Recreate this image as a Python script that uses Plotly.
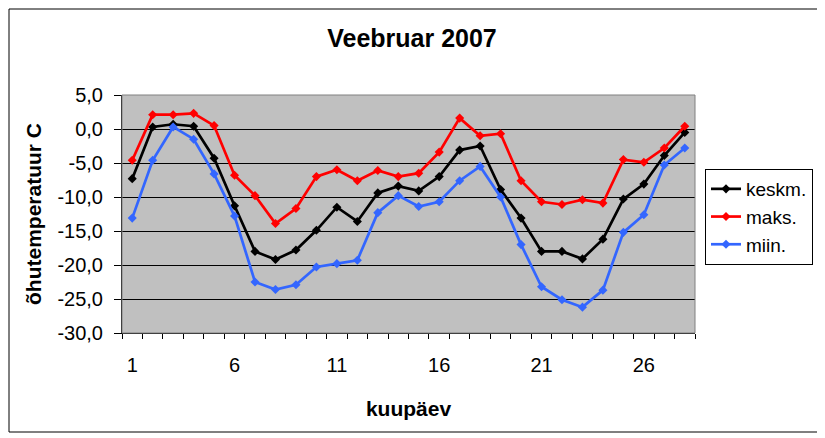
import plotly.graph_objects as go

days = list(range(1, 29))
keskm = [-7.3, 0.3, 0.7, 0.4, -4.3, -11.3, -18.0, -19.2, -17.8, -14.9, -11.5, -13.6, -9.4, -8.4,
         -9.1, -7.0, -3.1, -2.5, -8.9, -13.1, -18.0, -18.0, -19.1, -16.2, -10.3, -8.1, -3.9, -0.5]
maks = [-4.6, 2.1, 2.1, 2.3, 0.5, -6.8, -9.8, -13.9, -11.7, -7.0, -6.0, -7.6, -6.1, -7.0,
        -6.5, -3.4, 1.6, -1.0, -0.7, -7.6, -10.7, -11.1, -10.4, -10.9, -4.5, -4.9, -2.8, 0.4]
miin = [-13.1, -4.6, 0.3, -1.5, -6.6, -12.8, -22.5, -23.6, -22.9, -20.3, -19.8, -19.3, -12.3, -9.8,
        -11.4, -10.7, -7.6, -5.5, -10.0, -17.0, -23.2, -25.1, -26.2, -23.7, -15.2, -12.6, -5.3, -2.8]

x_ticks = [1, 6, 11, 16, 21, 26]
x_labels = ["1", "6", "11", "16", "21", "26"]
y_ticks = [-30, -25, -20, -15, -10, -5, 0, 5]
y_labels = ["-30,0", "-25,0", "-20,0", "-15,0", "-10,0", "-5,0", "0,0", "5,0"]

FONT = "Arial, Liberation Sans, sans-serif"

def trace(y, name, color):
    return go.Scatter(x=days, y=y, name=name, mode="lines+markers",
                      line=dict(color=color, width=2.7),
                      marker=dict(symbol="diamond", size=7, color=color))

data = [trace(keskm, "keskm.", "#000000"),
        trace(maks, "maks.", "#FF0000"),
        trace(miin, "miin.", "#3366FF")]

# the page puts the figure 8px in from the window corner, so work in window
# pixels and take the offset off
OFF = 8
W, H = 825 - OFF, 438 - OFF
L, R, T, B = 122 - OFF, 695 - OFF, 95 - OFF, 333 - OFF
pw, ph = R - L, B - T

def px(x):
    return (x - OFF - L) / pw

def py(y):
    return (B - (y - OFF)) / ph

layout = go.Layout(
    width=W, height=H,
    margin=dict(l=L, r=W - R, t=T, b=H - B, autoexpand=False),
    paper_bgcolor="white",
    plot_bgcolor="#C0C0C0",
    font=dict(family=FONT, size=20, color="black"),
    title=dict(text="<b>Veebruar 2007</b>", x=(412 - OFF) / W, xanchor="center",
               y=1 - (38 - OFF) / H, yanchor="middle", yref="container",
               font=dict(size=25)),
    xaxis=dict(range=[0.5, 28.5], tickmode="array", tickvals=x_ticks, ticktext=x_labels,
               ticks="", showgrid=False, zeroline=False,
               showline=True, linecolor="black", linewidth=1,
               ticklabelstandoff=14,
               minor=dict(tickmode="linear", tick0=0.5, dtick=1, ticks="outside",
                          ticklen=5, tickcolor="black", showgrid=False),
               title=dict(text="<b>kuupäev</b>", font=dict(size=21), standoff=26)),
    yaxis=dict(range=[-30, 5], tickmode="array", tickvals=y_ticks, ticktext=y_labels,
               ticks="outside", ticklen=7, tickcolor="black",
               showgrid=True, gridcolor="black", gridwidth=1, zeroline=False,
               showline=True, linecolor="black", linewidth=1,
               ticklabelstandoff=7,
               title=dict(text="<b>õhutemperatuur C</b>", font=dict(size=21), standoff=10)),
    legend=dict(x=px(705), xanchor="left", y=py(169), yanchor="top",
                bordercolor="black", borderwidth=1, bgcolor="white",
                font=dict(size=19), itemwidth=30, tracegroupgap=0),
    shapes=[
        dict(type="rect", xref="paper", yref="paper", x0=0, x1=1, y0=0, y1=1,
             line=dict(color="#808080", width=1)),
        # outer chart frame, kept just inside the figure
        dict(type="rect", xref="paper", yref="paper",
             x0=px(OFF + 1), x1=px(818), y0=py(432), y1=py(OFF + 1),
             line=dict(color="black", width=1)),
    ],
    showlegend=True,
)

fig = go.Figure(data=data, layout=layout)
fig.write_html("out.html")
